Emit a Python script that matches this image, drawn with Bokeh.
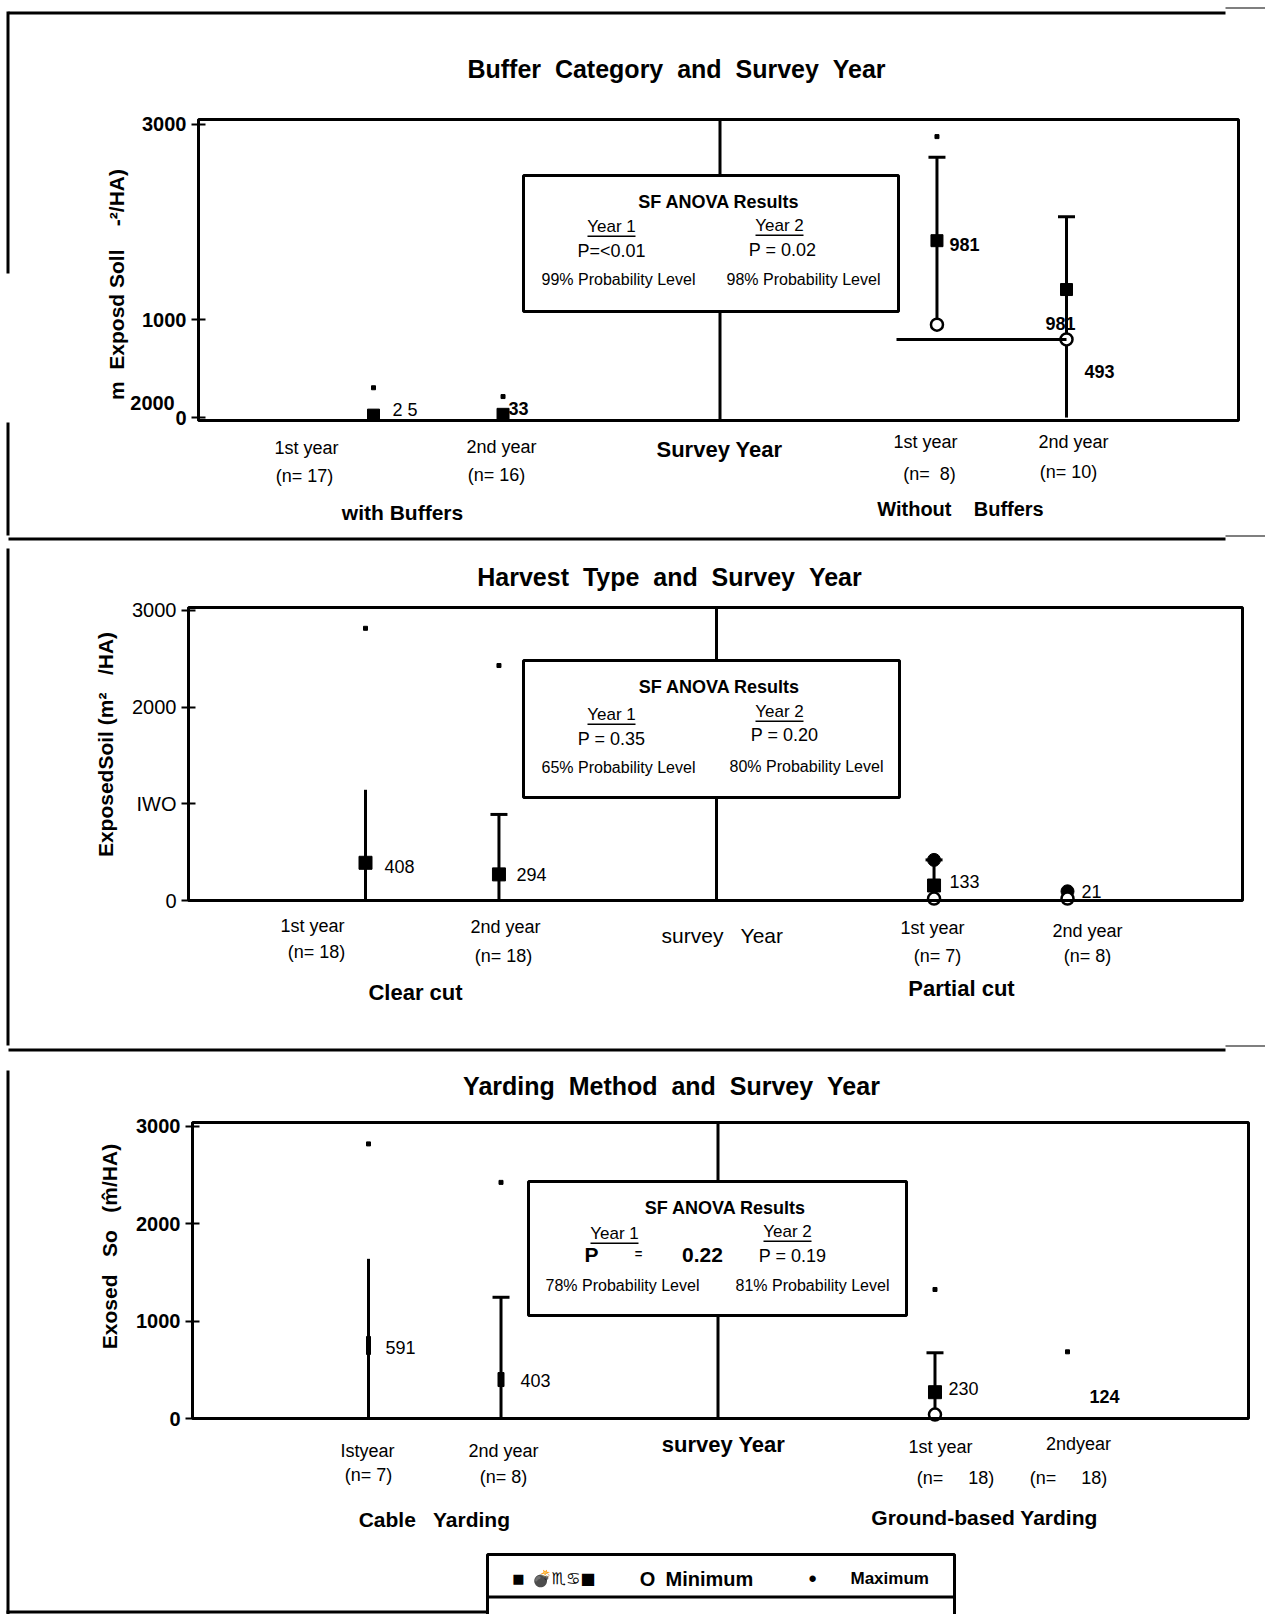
import math
from bokeh.plotting import figure
from bokeh.models import Range1d, FixedTicker, Label, BoxAnnotation, LinearAxis
from bokeh.embed import file_html
from bokeh.resources import INLINE

# ---------------------------------------------------------------- data
year_order = ["1st year", "2nd year"]

# Panel 1 : buffer category
buf_title = "Buffer  Category  and  Survey  Year"
buf_groups = ["with Buffers", "Without    Buffers"]
buf_years = ["1st year", "2nd year", "1st year", "2nd year"]
buf_n = ["(n= 17)", "(n= 16)", "(n=  8)", "(n= 10)"]
buf_mean = [25, 33, 1810, 1310]
buf_mean_text = ["2 5", "33", "981", "981"]
buf_min = [None, None, 950, 800]
buf_max = [305, 215, 2875, None]
buf_bar_low = [None, None, 950, 0]
buf_bar_high = [None, None, 2665, 2055]
buf_extra_text = ["493"]
buf_anova = ["P=<0.01", "99% Probability Level", "P = 0.02", "98% Probability Level"]
buf_yticks = [0, 1000, 3000]

# Panel 2 : harvest type
harv_title = "Harvest  Type  and  Survey  Year"
harv_groups = ["Clear cut", "Partial cut"]
harv_years = ["1st year", "2nd year", "1st year", "2nd year"]
harv_n = ["(n= 18)", "(n= 18)", "(n= 7)", "(n= 8)"]
harv_mean = [390, 270, 155, None]
harv_mean_text = ["408", "294", "133", "21"]
harv_min = [None, None, 20, 20]
harv_max = [2815, 2430, 420, 95]
harv_bar_low = [0, 0, 155, None]
harv_bar_high = [1145, 890, 420, None]
harv_anova = ["P = 0.35", "65% Probability Level", "P = 0.20", "80% Probability Level"]
harv_yticks = [0, 1000, 2000, 3000]

# Panel 3 : yarding method
yard_title = "Yarding  Method  and  Survey  Year"
yard_groups = ["Cable   Yarding", "Ground-based Yarding"]
yard_years = ["Istyear", "2nd year", "1st year", "2ndyear"]
yard_n = ["(n= 7)", "(n= 8)", "(n=     18)", "(n=     18)"]
yard_mean = [750, 400, 270, None]
yard_mean_text = ["591", "403", "230", "124"]
yard_min = [None, None, 40, None]
yard_max = [2820, 2425, 1325, 685]
yard_bar_low = [0, 0, 40, None]
yard_bar_high = [1640, 1245, 675, None]
yard_anova = ["P", "0.22", "P = 0.19", "78% Probability Level", "81% Probability Level"]
yard_yticks = [0, 1000, 2000, 3000]

legend_items = ["\U0001F4A3\u264F\u264B\u25A0", "Minimum", "Maximum"]

# ---------------------------------------------------------------- page
SANS = "Liberation Sans"
PW, PH = 1265, 1614

# One canvas for the whole scanned page: default ranges are page pixels,
# each chart panel gets its own value/category ranges and its own y axis.
p = figure(width=PW, height=PH, x_range=Range1d(0, PW), y_range=Range1d(PH, 0),
           x_axis_location=None, y_axis_location=None, min_border=0,
           output_backend="svg", toolbar_location=None, title=None,
           background_fill_color="white", border_fill_color="white")
p.outline_line_color = None
p.grid.visible = False


def keep_spaces(s):
    # SVG collapses runs of spaces; keep the scanned spacing with no-break spaces
    return s.replace("  ", " \u00a0")


def text(px, py, s, size=18, font=SANS, bold=False, align="center", angle=0):
    p.add_layout(Label(x=px, y=py, text=keep_spaces(s), text_align=align, text_baseline="middle",
                       text_font=font, text_font_size=f"{size}px", angle=angle,
                       text_font_style="bold" if bold else "normal", text_color="black"))


def box(x0, y0, x1, y1, fill=None, lw=3):
    p.add_layout(BoxAnnotation(left=x0, right=x1, top=y0, bottom=y1,
                               fill_color=fill, fill_alpha=1.0 if fill else 0.0,
                               line_color="black", line_alpha=1.0, line_width=lw))


def bar(x0, y0, x1, y1):
    p.add_layout(BoxAnnotation(left=x0, right=x1, top=y0, bottom=y1,
                               fill_color="black", fill_alpha=1.0, line_color=None))


class Panel:
    def __init__(self, name, frame, yr, a1, b2, gap, ticks, overrides, bold_ticks=True):
        left, top, right, bottom = frame
        self.xn, self.yn = "x" + name, "y" + name
        self.gap = gap
        self.a1 = a1
        self.u = (b2 - a1) / (2 + gap)
        k = (yr[1] - yr[0]) / (bottom - top)
        p.extra_x_ranges[self.xn] = Range1d(self.slot_of(0), self.slot_of(PW))
        p.extra_y_ranges[self.yn] = Range1d(yr[0] + (bottom - PH) * k, yr[0] + bottom * k)
        self.yr = yr
        box(left, top, right, bottom, fill=None, lw=3)
        ax = LinearAxis(y_range_name=self.yn, fixed_location=left, bounds=yr,
                        ticker=FixedTicker(ticks=ticks), major_label_overrides=overrides)
        ax.axis_line_width = 3
        ax.major_tick_line_width = 2
        ax.major_tick_in = 7
        ax.major_tick_out = 7
        ax.minor_tick_line_color = None
        ax.major_label_text_font = SANS
        ax.major_label_text_font_size = "20px"
        ax.major_label_text_font_style = "bold" if bold_ticks else "normal"
        ax.major_label_text_color = "black"
        ax.major_label_standoff = 5
        p.add_layout(ax, "left")

    def slot_of(self, px):
        return (px - self.a1) / self.u

    def slots(self, n_groups=2):
        return [g * (1 + self.gap) + y for g in range(n_groups) for y in range(len(year_order))]

    def marks(self, mean, mn, mx, lo, hi, caps, big_max, mean_w, mean_h):
        kw = dict(x_range_name=self.xn, y_range_name=self.yn)
        xs = self.slots()
        mid = 1 + self.gap / 2
        p.segment(x0=[mid], y0=[self.yr[0]], x1=[mid], y1=[self.yr[1]],
                  line_color="black", line_width=3, **kw)
        seg = [(x, a, b) for x, a, b in zip(xs, lo, hi) if a is not None]
        p.segment(x0=[s[0] for s in seg], y0=[s[1] for s in seg],
                  x1=[s[0] for s in seg], y1=[s[2] for s in seg],
                  line_color="black", line_width=3, **kw)
        cp = [(x, h) for x, h, c in zip(xs, hi, caps) if c and h is not None]
        p.scatter(x=[c[0] for c in cp], y=[c[1] for c in cp], marker="dash", size=17,
                  line_color="black", line_width=3, **kw)
        mm = [(x, v, w, h) for x, v, w, h in zip(xs, mean, mean_w, mean_h) if v is not None]
        p.rect(x=[m[0] for m in mm], y=[m[1] for m in mm], width=[m[2] for m in mm],
               height=[m[3] for m in mm], width_units="screen", height_units="screen",
               fill_color="black", line_color="black", **kw)
        sm = [(x, v) for x, v, b in zip(xs, mx, big_max) if v is not None and not b]
        p.scatter(x=[m[0] for m in sm], y=[m[1] for m in sm], marker="square", size=4,
                  fill_color="black", line_color="black", **kw)
        bg = [(x, v) for x, v, b in zip(xs, mx, big_max) if v is not None and b]
        if bg:
            p.scatter(x=[m[0] for m in bg], y=[m[1] for m in bg], marker="circle", size=13,
                      fill_color="black", line_color="black", **kw)
        mi = [(x, v) for x, v in zip(xs, mn) if v is not None]
        p.scatter(x=[m[0] for m in mi], y=[m[1] for m in mi], marker="circle", size=12,
                  fill_color="white", line_color="black", line_width=2.5, **kw)


def anova_box(bx, heads, vals):
    x0, y0, x1, y1 = bx
    box(x0, y0, x1, y1, fill="white", lw=3)
    text((x0 + x1) / 2 + 8, y0 + 26, "SF ANOVA Results", size=18, bold=True)
    for (hx, hy), t in zip(heads, ["Year 1", "Year 2"]):
        text(hx, hy, t, size=17)
        bar(hx - 24, hy + 9, hx + 24, hy + 10.5)
    for (vx, vy, s, sz, b) in vals:
        text(vx, vy, s, size=sz, bold=b)


# ---------------------------------------------------------------- page rules
for r in [(8, 11, 1225, 14), (6, 11, 9, 273), (6, 422, 9, 535), (8, 537, 1225, 540),
          (6, 548, 9, 1045), (8, 1048, 1225, 1051), (6, 1070, 9, PH), (6, 1610, 487, 1613)]:
    bar(*r)
for r in [(1225, 7, 1265, 8), (1225, 535, 1265, 536), (1225, 1045, 1265, 1046)]:
    bar(*r)

# ---------------------------------------------------------------- panel 1
pn1 = Panel("1", (198, 119, 1238, 420), (-30, 3050), 373, 1066, 3.35, buf_yticks, {})
pn1.marks(buf_mean, buf_min, buf_max, buf_bar_low, buf_bar_high,
          [False, False, True, True], [False] * 4, [12] * 4, [12] * 4)
p.segment(x0=[pn1.slot_of(896)], y0=[buf_min[3]], x1=[pn1.slots()[3]], y1=[buf_min[3]],
          line_color="black", line_width=3, x_range_name=pn1.xn, y_range_name=pn1.yn)
text(676, 68, buf_title, size=25, bold=True)
text(152, 402, "2000", size=20, bold=True)
text(116, 284, "m  Exposd Soll    -\u00b2/HA)", size=21, bold=True, angle=math.pi / 2)
for (x, y), t in zip([(306, 447), (501, 446), (925, 441), (1073, 441)], buf_years):
    text(x, y, t, size=18)
for (x, y), t in zip([(304, 475), (496, 474), (929, 473), (1068, 471)], buf_n):
    text(x, y, t, size=18)
text(719, 449, "Survey Year", size=22, bold=True)
text(402, 512, buf_groups[0], size=21, bold=True)
text(960, 508, buf_groups[1], size=20, bold=True)
for (x, y), t in zip([(392, 409), (508, 408), (949, 244), (1045, 323)], buf_mean_text):
    text(x, y, t, size=18, bold=(t != "2 5"), align="left")
text(1084, 371, buf_extra_text[0], size=18, bold=True, align="left")
anova_box((523, 175, 898, 311), [(611, 226), (779, 225)],
          [(611, 250, buf_anova[0], 18, False), (618, 279, buf_anova[1], 16, False),
           (782, 249, buf_anova[2], 18, False), (803, 279, buf_anova[3], 16, False)])

# ---------------------------------------------------------------- panel 2
pn2 = Panel("2", (188, 607, 1242, 900), (0, 3030), 365, 1067, 3.26, harv_yticks,
            {1000: "IWO"}, bold_ticks=False)
pn2.marks(harv_mean, harv_min, harv_max, harv_bar_low, harv_bar_high,
          [False, True, True, False], [False, False, True, True], [13] * 4, [13] * 4)
text(669, 576, harv_title, size=25, bold=True)
text(105, 744, "ExposedSoil (m\u00b2   /HA)", size=21, bold=True, angle=math.pi / 2)
for (x, y), t in zip([(312, 925), (505, 926), (932, 927), (1087, 930)], harv_years):
    text(x, y, t, size=18)
for (x, y), t in zip([(316, 951), (503, 955), (937, 955), (1087, 955)], harv_n):
    text(x, y, t, size=18)
text(722, 935, "survey   Year", size=21)
text(415, 992, harv_groups[0], size=22, bold=True)
text(961, 988, harv_groups[1], size=22, bold=True)
for (x, y), t in zip([(384, 866), (516, 874), (949, 881), (1081, 891)], harv_mean_text):
    text(x, y, t, size=18, align="left")
anova_box((523, 660, 899, 797), [(611, 714), (779, 711)],
          [(611, 738, harv_anova[0], 18, False), (618, 767, harv_anova[1], 16, False),
           (784, 734, harv_anova[2], 18, False), (806, 766, harv_anova[3], 16, False)])

# ---------------------------------------------------------------- panel 3
pn3 = Panel("3", (192, 1122, 1248, 1418), (0, 3040), 368, 1067, 3.275, yard_yticks, {})
pn3.marks(yard_mean, yard_min, yard_max, yard_bar_low, yard_bar_high,
          [False, True, True, False], [False] * 4, [4, 6, 13, 13], [18, 14, 13, 13])
text(671, 1085, yard_title, size=25, bold=True)
text(109, 1246, "Exosed   So   (m\u0302/HA)", size=21, bold=True, angle=math.pi / 2)
for (x, y), t in zip([(367, 1450), (503, 1450), (940, 1446), (1078, 1443)], yard_years):
    text(x, y, t, size=18)
for (x, y), t in zip([(368, 1474), (503, 1476), (955, 1477), (1068, 1477)], yard_n):
    text(x, y, t, size=18)
text(723, 1444, "survey Year", size=22, bold=True)
text(434, 1519, yard_groups[0], size=21, bold=True)
text(984, 1517, yard_groups[1], size=21, bold=True)
for (x, y), t in zip([(385, 1347), (520, 1380), (948, 1388), (1089, 1396)], yard_mean_text):
    text(x, y, t, size=18, align="left", bold=(t == "124"))
anova_box((528, 1181, 906, 1315), [(614, 1233), (787, 1231)],
          [(591, 1254, yard_anova[0], 21, True), (638, 1253, "=", 13, True),
           (702, 1254, yard_anova[1], 21, True), (792, 1255, yard_anova[2], 18, False),
           (622, 1285, yard_anova[3], 16, False), (812, 1285, yard_anova[4], 16, False)])

# legend
box(487, 1554, 954, 1640, fill=None, lw=3)
bar(487, 1595, 954, 1598)
text(518, 1578, "\u25A0", size=13, font="DejaVu Sans")
text(563, 1578, legend_items[0], size=16, font="DejaVu Sans")
text(647, 1578, "O", size=20, bold=True)
text(665, 1578, legend_items[1], size=20, bold=True, align="left")
text(812, 1578, "\u2022", size=22, bold=True)
text(850, 1578, legend_items[2], size=17, bold=True, align="left")

open("out.html", "w").write(file_html(p, INLINE))
